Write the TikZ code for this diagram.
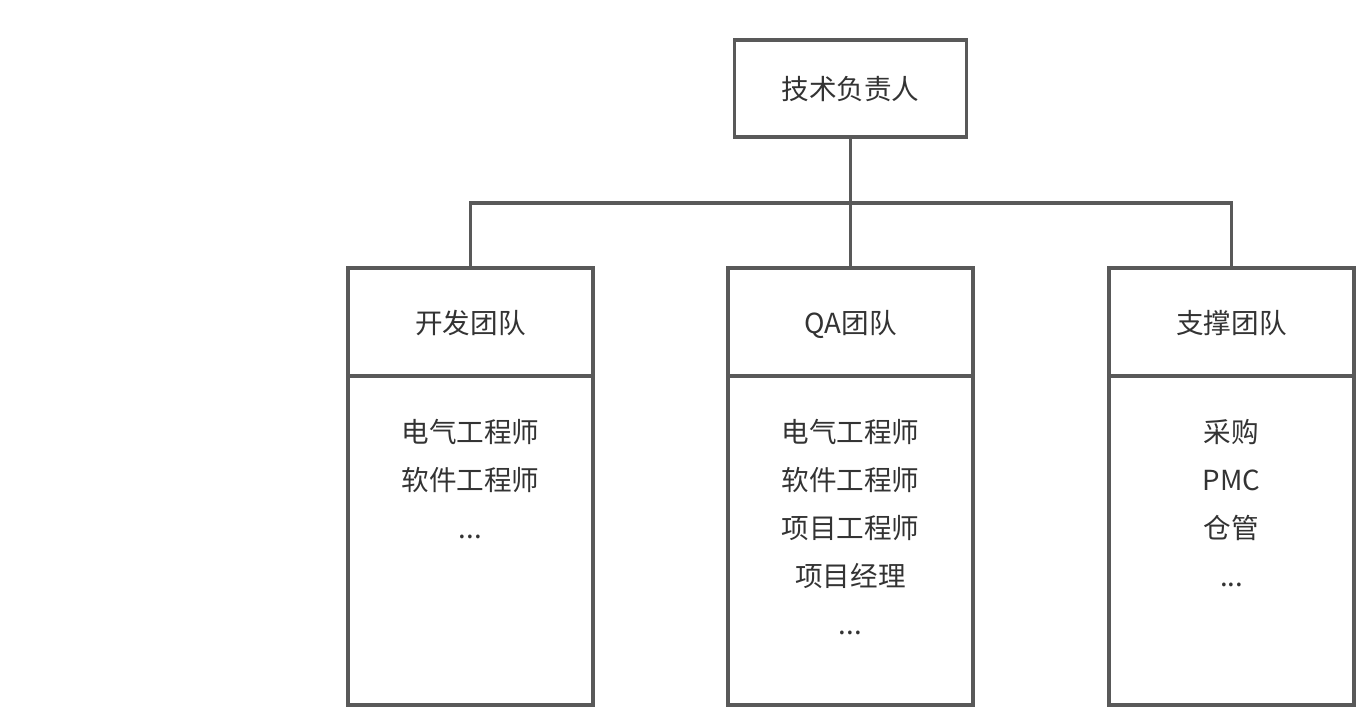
\documentclass[tikz,border=0pt]{standalone}
\usepackage{fontspec}
\setmainfont{Noto Sans CJK SC}
\usetikzlibrary{positioning}
\definecolor{linegray}{HTML}{595959}
\definecolor{textgray}{HTML}{333333}
\tikzset{box/.style = {draw=linegray, line width=2.6pt, text=textgray, inner sep=0pt, outer sep=0pt,
                       text height=1.7em, text depth=0em,
                       font=\fontsize{20.7}{36}\selectfont},
         head/.style = {minimum width=183.75pt, minimum height=81pt},
         belly/.style = {minimum width=183.75pt, minimum height=246.75pt},
         members/.style = {text=textgray, inner sep=0pt, align=center,
                           font=\fontsize{20.7}{36}\selectfont},
         wire/.style = {draw=linegray, line width=2.6pt}}

\begin{document}
\begin{tikzpicture}[x=0.75pt, y=-0.75pt]
  \useasboundingbox (0,0) rectangle (1361,709);
  \node [box, minimum width=174pt, minimum height=72.75pt] (lead) at (850.5,88.5) {技术负责人};
  \node [box, head] (dev) at (470.5,322) {开发团队};
  \node [box, head] (qa) at (850.5,322) {QA团队};
  \node [box, head] (sup) at (1231.5,322) {支撑团队};
  \foreach \t in {dev,qa,sup}
    \node [box, belly, below=0pt of \t] (\t-body) {};
  % member lists
  \node [members, below=32.5pt of dev-body.north] (dev-list) {电气工程师\\软件工程师\\...};
  \node [members, below=32.5pt of qa-body.north] (qa-list) {电气工程师\\软件工程师\\项目工程师\\项目经理\\...};
  \node [members, below=32.5pt of sup-body.north] (sup-list) {采购\\PMC\\仓管\\...};
  % connectors
  \coordinate (bus) at (850.5,203);
  \draw [wire] (lead.south) -- (qa.north);
  \draw [wire] (dev.north) |- (bus) -| (sup.north);
\end{tikzpicture}
\end{document}
